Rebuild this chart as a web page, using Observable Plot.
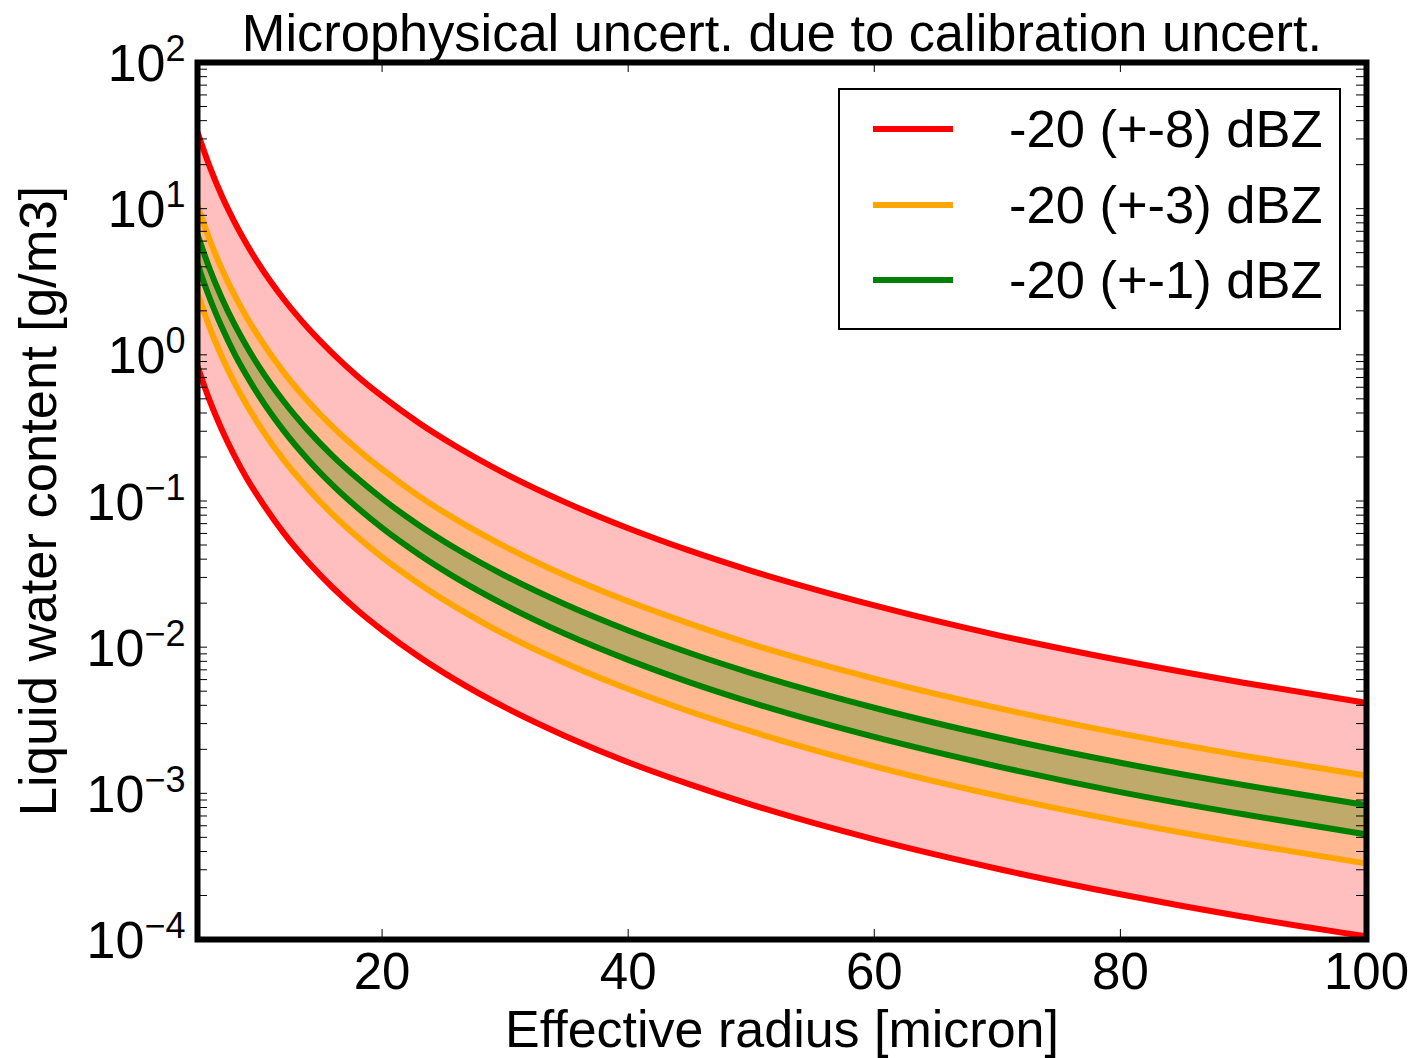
<!DOCTYPE html>
<html>
<head>
<meta charset="utf-8">
<script src="https://cdn.jsdelivr.net/npm/d3@7"></script>
<script src="https://cdn.jsdelivr.net/npm/@observablehq/plot@0.6"></script>
<style>
  body { margin: 0; background: #fff; }
  #wrap { position: relative; width: 1416px; height: 1058px; font-family: "Liberation Sans", Arial, sans-serif; }
  #wrap svg { display: block; }
  #legend { position: absolute; left: 838px; top: 88px; width: 499px; height: 238px; border: 2px solid #000; background: #fff; }
  .row { position: absolute; left: 0; height: 0; }
  .sw { position: absolute; left: 33px; width: 80px; height: 6px; top: -3px; }
  .lab { position: absolute; left: 169px; top: 0; font-size: 52.5px; line-height: 1; white-space: nowrap; transform: translateY(-50%); color: #000; }
</style>
</head>
<body>
<div id="wrap"></div>
<script>
// ---- data ----
const radius   = [5, 6, 7, 8, 9, 10, 12, 14, 16, 18, 20, 23, 26, 30, 35, 40, 45, 50, 60, 70, 80, 90, 100];
// -20 (+-8) dBZ bounds
const redHigh  = [33.3, 19.3, 12.1, 8.13, 5.71, 4.16, 2.41, 1.52, 1.02, 0.714, 0.521, 0.342, 0.237, 0.154, 0.0971, 0.0651, 0.0457, 0.0333, 0.0193, 0.0121, 0.00813, 0.00571, 0.00416];
const redLow   = [0.837, 0.484, 0.305, 0.204, 0.143, 0.105, 0.0605, 0.0381, 0.0255, 0.0179, 0.0131, 0.0086, 0.00595, 0.00387, 0.00244, 0.00163, 0.00115, 0.000837, 0.000484, 0.000305, 0.000204, 0.000143, 0.000105];
// -20 (+-3) dBZ bounds
const orangeHigh = [10.5, 6.10, 3.84, 2.57, 1.81, 1.32, 0.762, 0.480, 0.321, 0.226, 0.165, 0.108, 0.0749, 0.0488, 0.0307, 0.0206, 0.0145, 0.0105, 0.0061, 0.00384, 0.00257, 0.00181, 0.00132];
const orangeLow  = [2.65, 1.53, 0.964, 0.646, 0.454, 0.331, 0.191, 0.121, 0.0807, 0.0567, 0.0413, 0.0272, 0.0188, 0.0122, 0.00771, 0.00517, 0.00363, 0.00265, 0.00153, 0.000964, 0.000646, 0.000454, 0.000331];
// -20 (+-1) dBZ bounds
const greenHigh = [6.65, 3.85, 2.42, 1.62, 1.14, 0.831, 0.481, 0.303, 0.203, 0.143, 0.104, 0.0683, 0.0473, 0.0308, 0.0194, 0.013, 0.00912, 0.00665, 0.00385, 0.00242, 0.00162, 0.00114, 0.000831];
const greenLow  = [4.19, 2.43, 1.53, 1.02, 0.719, 0.524, 0.303, 0.191, 0.128, 0.0899, 0.0655, 0.0431, 0.0298, 0.0194, 0.0122, 0.00819, 0.00575, 0.00419, 0.00243, 0.00153, 0.00102, 0.000719, 0.000524];

const seriesNames  = ["-20 (+-8) dBZ", "-20 (+-3) dBZ", "-20 (+-1) dBZ"];
const seriesColors = ["red", "orange", "green"];

const xTicks = [20, 40, 60, 80, 100];
const yMajorTicks = [1e-4, 1e-3, 1e-2, 1e-1, 1, 10, 100];
const yExponents  = ["−4", "−3", "−2", "−1", "0", "1", "2"];

const titleText = "Microphysical uncert. due to calibration uncert.";
const xLabel = "Effective radius [micron]";
const yLabel = "Liquid water content [g/m3]";

// ---- build table ----
const table = radius.map((r, i) => ({
  r, rh: redHigh[i], rl: redLow[i], oh: orangeHigh[i], ol: orangeLow[i], gh: greenHigh[i], gl: greenLow[i]
}));
const yAllTicks = [];
yMajorTicks.forEach((v, i) => {
  yAllTicks.push(v);
  if (i < yMajorTicks.length - 1) for (let k = 2; k <= 9; k++) yAllTicks.push(+(v * k).toPrecision(3));
});
const MARK = "\u00a7";
const expByValue = new Map(yMajorTicks.map((v, i) => [v, MARK + yExponents[i]]));

const W = 1416, H = 1058, ML = 197, MR = 50, MT = 62, MB = 119;
const FW = W - ML - MR, FH = H - MT - MB, TL = 10;
const font = "'Liberation Sans', Arial, sans-serif";

const bands = [["rl", "rh"], ["ol", "oh"], ["gl", "gh"]];

const marks = [];
bands.forEach(([lo, hi], i) => {
  marks.push(Plot.areaY(table, {x: "r", y1: lo, y2: hi, fill: seriesColors[i], fillOpacity: 0.25, curve: "monotone-x", clip: true}));
});
bands.forEach(([lo, hi], i) => {
  marks.push(Plot.lineY(table, {x: "r", y: hi, stroke: seriesColors[i], strokeWidth: 6, curve: "monotone-x", clip: true}));
  marks.push(Plot.lineY(table, {x: "r", y: lo, stroke: seriesColors[i], strokeWidth: 6, curve: "monotone-x", clip: true}));
});
marks.push(
  Plot.tickX(xTicks, {x: d => d, insetTop: FH - TL, stroke: "black", strokeWidth: 1}),
  Plot.tickX(xTicks, {x: d => d, insetBottom: FH - TL, stroke: "black", strokeWidth: 1}),
  Plot.tickY(yAllTicks, {y: d => d, insetRight: FW - TL, stroke: "black", strokeWidth: 1}),
  Plot.tickY(yAllTicks, {y: d => d, insetLeft: FW - TL, stroke: "black", strokeWidth: 1}),
  Plot.frame({stroke: "black", strokeWidth: 6}),
  Plot.text(xTicks, {x: d => d, text: d => String(d), frameAnchor: "bottom", lineAnchor: "middle", textAnchor: "middle", dy: 33, fontSize: 51, fill: "black"}),
  Plot.text(yMajorTicks, {y: d => d, text: d => expByValue.get(d), frameAnchor: "left", lineAnchor: "middle", textAnchor: "end", dx: -12, dy: 2, fontSize: 52, fill: "black"}),
  Plot.text([xLabel], {text: d => d, frameAnchor: "bottom", lineAnchor: "middle", textAnchor: "middle", dy: 91, fontSize: 52, fill: "black"}),
  Plot.text([yLabel], {text: d => d, frameAnchor: "left", lineAnchor: "middle", textAnchor: "middle", rotate: -90, dx: -158, fontSize: 52.5, fill: "black"}),
  Plot.text([titleText], {text: d => d, frameAnchor: "top", lineAnchor: "middle", textAnchor: "middle", dy: -28, fontSize: 52.4, fill: "black"})
);

const svg = Plot.plot({
  width: W, height: H,
  marginLeft: ML, marginRight: MR, marginTop: MT, marginBottom: MB,
  style: {fontFamily: font, background: "white", overflow: "visible"},
  x: {type: "linear", domain: [5, 100], axis: null},
  y: {type: "log", domain: [1e-4, 1e2], axis: null},
  marks
});

// superscript exponents on y tick labels
const NS = "http://www.w3.org/2000/svg";
svg.querySelectorAll("text").forEach(t => {
  const s = t.textContent;
  if (!s.startsWith(MARK)) return;
  const e = s.slice(MARK.length);
  while (t.firstChild) t.removeChild(t.firstChild);
  const a = document.createElementNS(NS, "tspan");
  a.textContent = "10";
  const b = document.createElementNS(NS, "tspan");
  b.textContent = e;
  b.setAttribute("font-size", "36");
  b.setAttribute("dy", "-20");
  t.append(a, b);
});

const wrap = document.getElementById("wrap");
wrap.appendChild(svg);

// legend
const legend = document.createElement("div");
legend.id = "legend";
const rowY = [39, 115, 190];
seriesNames.forEach((name, i) => {
  const row = document.createElement("div");
  row.className = "row";
  row.style.top = rowY[i] + "px";
  const sw = document.createElement("div");
  sw.className = "sw";
  sw.style.background = seriesColors[i];
  const lab = document.createElement("div");
  lab.className = "lab";
  lab.textContent = name;
  row.append(sw, lab);
  legend.appendChild(row);
});
wrap.appendChild(legend);
</script>
</body>
</html>
